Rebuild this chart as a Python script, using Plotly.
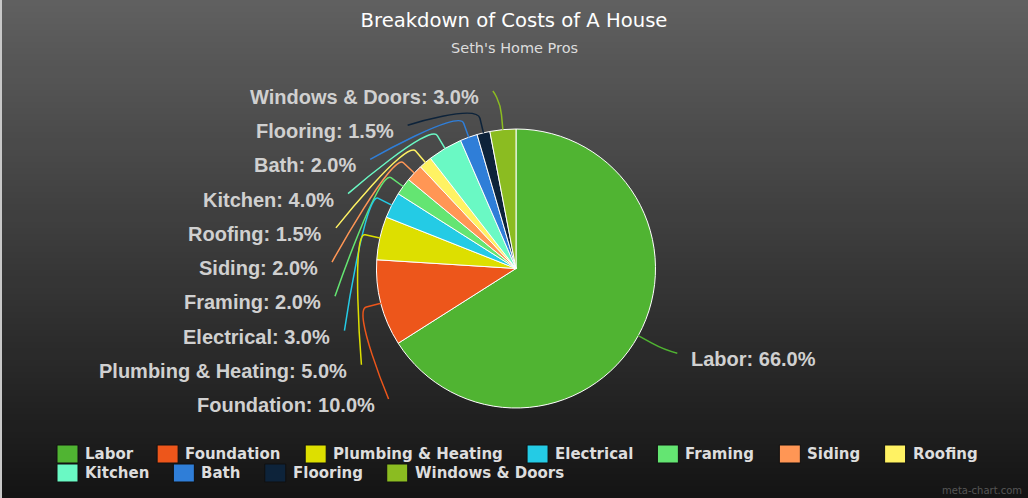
import math
import plotly.graph_objects as go

# ---------------- data ----------------
categories = ["Labor", "Foundation", "Plumbing & Heating", "Electrical", "Framing",
              "Siding", "Roofing", "Kitchen", "Bath", "Flooring", "Windows & Doors"]
values = [66.0, 10.0, 5.0, 3.0, 2.0, 2.0, 1.5, 4.0, 2.0, 1.5, 3.0]
colors = ["#50B432", "#ED561B", "#DDDF00", "#24CBE5", "#64E572", "#FF9655",
          "#FFF263", "#6AF9C4", "#2F7ED8", "#0D233A", "#8BBC21"]
title_text = "Breakdown of Costs of A House"
subtitle_text = "Seth's Home Pros"
credit_text = "meta-chart.com"

# ---------------- layout geometry (pixels) ----------------
W, H = 1028, 498
CX, CY, R = 516, 268.5, 139.5
LABEL_TOP, LABEL_BOTTOM = 97, 405


def px(x):
    return x / W


def py(y):
    return 1 - y / H


def hex_to_rgb(h):
    h = h.lstrip("#")
    return tuple(int(h[i:i + 2], 16) for i in (0, 2, 4))


fig = go.Figure(go.Pie(
    labels=categories, values=values, sort=False, direction="clockwise", rotation=0,
    marker=dict(colors=colors, line=dict(color="#ffffff", width=1)),
    textinfo="none", hoverinfo="label+percent", showlegend=False,
    domain=dict(x=[px(CX - R), px(CX + R)], y=[py(CY + R), py(CY - R)]),
))

shapes = []
# background vertical gradient (bands overlap by one band so no seams show)
top_c, bot_c = hex_to_rgb("#606060"), hex_to_rgb("#141414")
N = 83
for i in range(N):
    t = (i + 0.5) / N
    c = tuple(round(top_c[k] + (bot_c[k] - top_c[k]) * t) for k in range(3))
    shapes.append(dict(type="rect", xref="paper", yref="paper", x0=0, x1=1,
                       y0=max(0.0, 1 - (i + 2) / N), y1=1 - i / N, layer="below",
                       line=dict(width=0), fillcolor="rgb(%d,%d,%d)" % c))
shapes.append(dict(type="line", xref="paper", yref="paper", x0=px(1), x1=px(1), y0=0, y1=1,
                   layer="below", line=dict(color="#c8c8c8", width=2)))

# ---------------- data labels with connectors ----------------
total = sum(values)
info = []
cum = 0.0
for cat, v, col in zip(categories, values, colors):
    theta = 2 * math.pi * (cum + v / 2) / total
    cum += v
    info.append((cat, v, col, theta))

left = sorted([d for d in info if math.sin(d[3]) < 0], key=lambda d: -d[3])
right = [d for d in info if math.sin(d[3]) >= 0]


def label_dx(y):
    dy = y - CY
    b = 174.6 if dy < 0 else 195
    return 198 * math.sqrt(max(0.0, 1 - (dy / b) ** 2))


placed = []
n = len(left)
for i, d in enumerate(left):
    y = LABEL_TOP + (LABEL_BOTTOM - LABEL_TOP) * i / (n - 1)
    placed.append((d, y, -1))
for d in right:
    y = CY - (R + 30) * math.cos(d[3]) + 9
    placed.append((d, y, 1))

annotations = []
for (cat, v, col, theta), y, side in placed:
    xl = CX + side * label_dx(y)
    annotations.append(dict(
        x=px(xl - side * 2), y=py(y), xref="paper", yref="paper", showarrow=False,
        xanchor="right" if side < 0 else "left", yanchor="middle",
        text="%s: %.1f%%" % (cat, v / total * 100),
        font=dict(family="Liberation Sans, Arial, sans-serif", size=20, color="#d0d0d0", weight="bold"),
    ))
    sx, sy = xl - side * 14, y - 6
    s, c = math.sin(theta), math.cos(theta)
    bx, by = CX + (R + 15) * s, CY - (R + 15) * c
    ex, ey = CX + R * s, CY - R * c
    c2x, c2y = 2 * bx - ex, 2 * by - ey
    path = "M %f,%f C %f,%f %f,%f %f,%f L %f,%f" % (
        px(sx), py(sy), px(sx), py(sy), px(c2x), py(c2y), px(bx), py(by), px(ex), py(ey))
    shapes.append(dict(type="path", xref="paper", yref="paper", path=path,
                       line=dict(color=col, width=1.5), layer="above"))

# ---------------- legend (swatch + text, laid out in wrapped rows) ----------------
# approximate advance widths (em) of DejaVu Sans Bold, used only to space the entries
DVB = {" ": 0.348, "&": 0.872, "B": 0.762, "D": 0.830, "E": 0.683, "F": 0.683, "H": 0.837,
       "K": 0.775, "L": 0.637, "P": 0.733, "R": 0.770, "S": 0.720, "W": 1.103,
       "a": 0.675, "b": 0.716, "c": 0.593, "d": 0.716, "e": 0.678, "f": 0.435, "g": 0.716,
       "h": 0.712, "i": 0.343, "k": 0.665, "l": 0.343, "m": 1.042, "n": 0.712, "o": 0.687,
       "r": 0.493, "s": 0.595, "t": 0.478, "u": 0.712, "w": 0.924}
LEG_FONT = 15
LEG_X0, LEG_ROW1, LEG_ROWH, LEG_MAXX = 57, 454, 19, 1000
SW_W, SW_H, SW_GAP, ITEM_GAP = 21, 18, 28, 24


def text_w(s, size):
    return sum(DVB.get(ch, 0.65) for ch in s) * size


x = LEG_X0
row = 0
for cat, col in zip(categories, colors):
    tw = text_w(cat, LEG_FONT)
    if x + SW_GAP + tw > LEG_MAXX and x > LEG_X0:
        row += 1
        x = LEG_X0
    yc = LEG_ROW1 + row * LEG_ROWH
    shapes.append(dict(type="rect", xref="paper", yref="paper", layer="above",
                       x0=px(x), x1=px(x + SW_W), y0=py(yc + SW_H / 2), y1=py(yc - SW_H / 2),
                       fillcolor=col, line=dict(color="#101010", width=1)))
    annotations.append(dict(x=px(x + SW_GAP - 2), y=py(yc), xref="paper", yref="paper",
                            showarrow=False, xanchor="left", yanchor="middle", text=cat,
                            font=dict(family="DejaVu Sans, sans-serif", size=LEG_FONT,
                                      color="#dddddd", weight="bold")))
    x += SW_GAP + tw + ITEM_GAP

annotations.append(dict(x=0.5, y=py(48), xref="paper", yref="paper", showarrow=False,
                        xanchor="center", yanchor="middle", text=subtitle_text,
                        font=dict(family="DejaVu Sans, sans-serif", size=14.5, color="#dddddd")))
annotations.append(dict(x=px(982), y=py(490), xref="paper", yref="paper", showarrow=False,
                        xanchor="center", yanchor="middle", text=credit_text,
                        font=dict(family="DejaVu Sans, sans-serif", size=10, color="#555555")))

fig.update_layout(
    width=W, height=H, autosize=False,
    margin=dict(l=0, r=0, t=0, b=0),
    paper_bgcolor="#141414", plot_bgcolor="rgba(0,0,0,0)",
    title=dict(text=title_text, x=0.5, xanchor="center", xref="paper",
               y=py(20), yanchor="middle", yref="paper",
               font=dict(family="DejaVu Sans, sans-serif", size=19.6, color="#ffffff")),
    showlegend=False,
    shapes=shapes, annotations=annotations,
)

fig.write_html("out.html", config={"displayModeBar": False},
               post_script="document.body.style.margin='0';document.body.style.overflow='hidden';")
